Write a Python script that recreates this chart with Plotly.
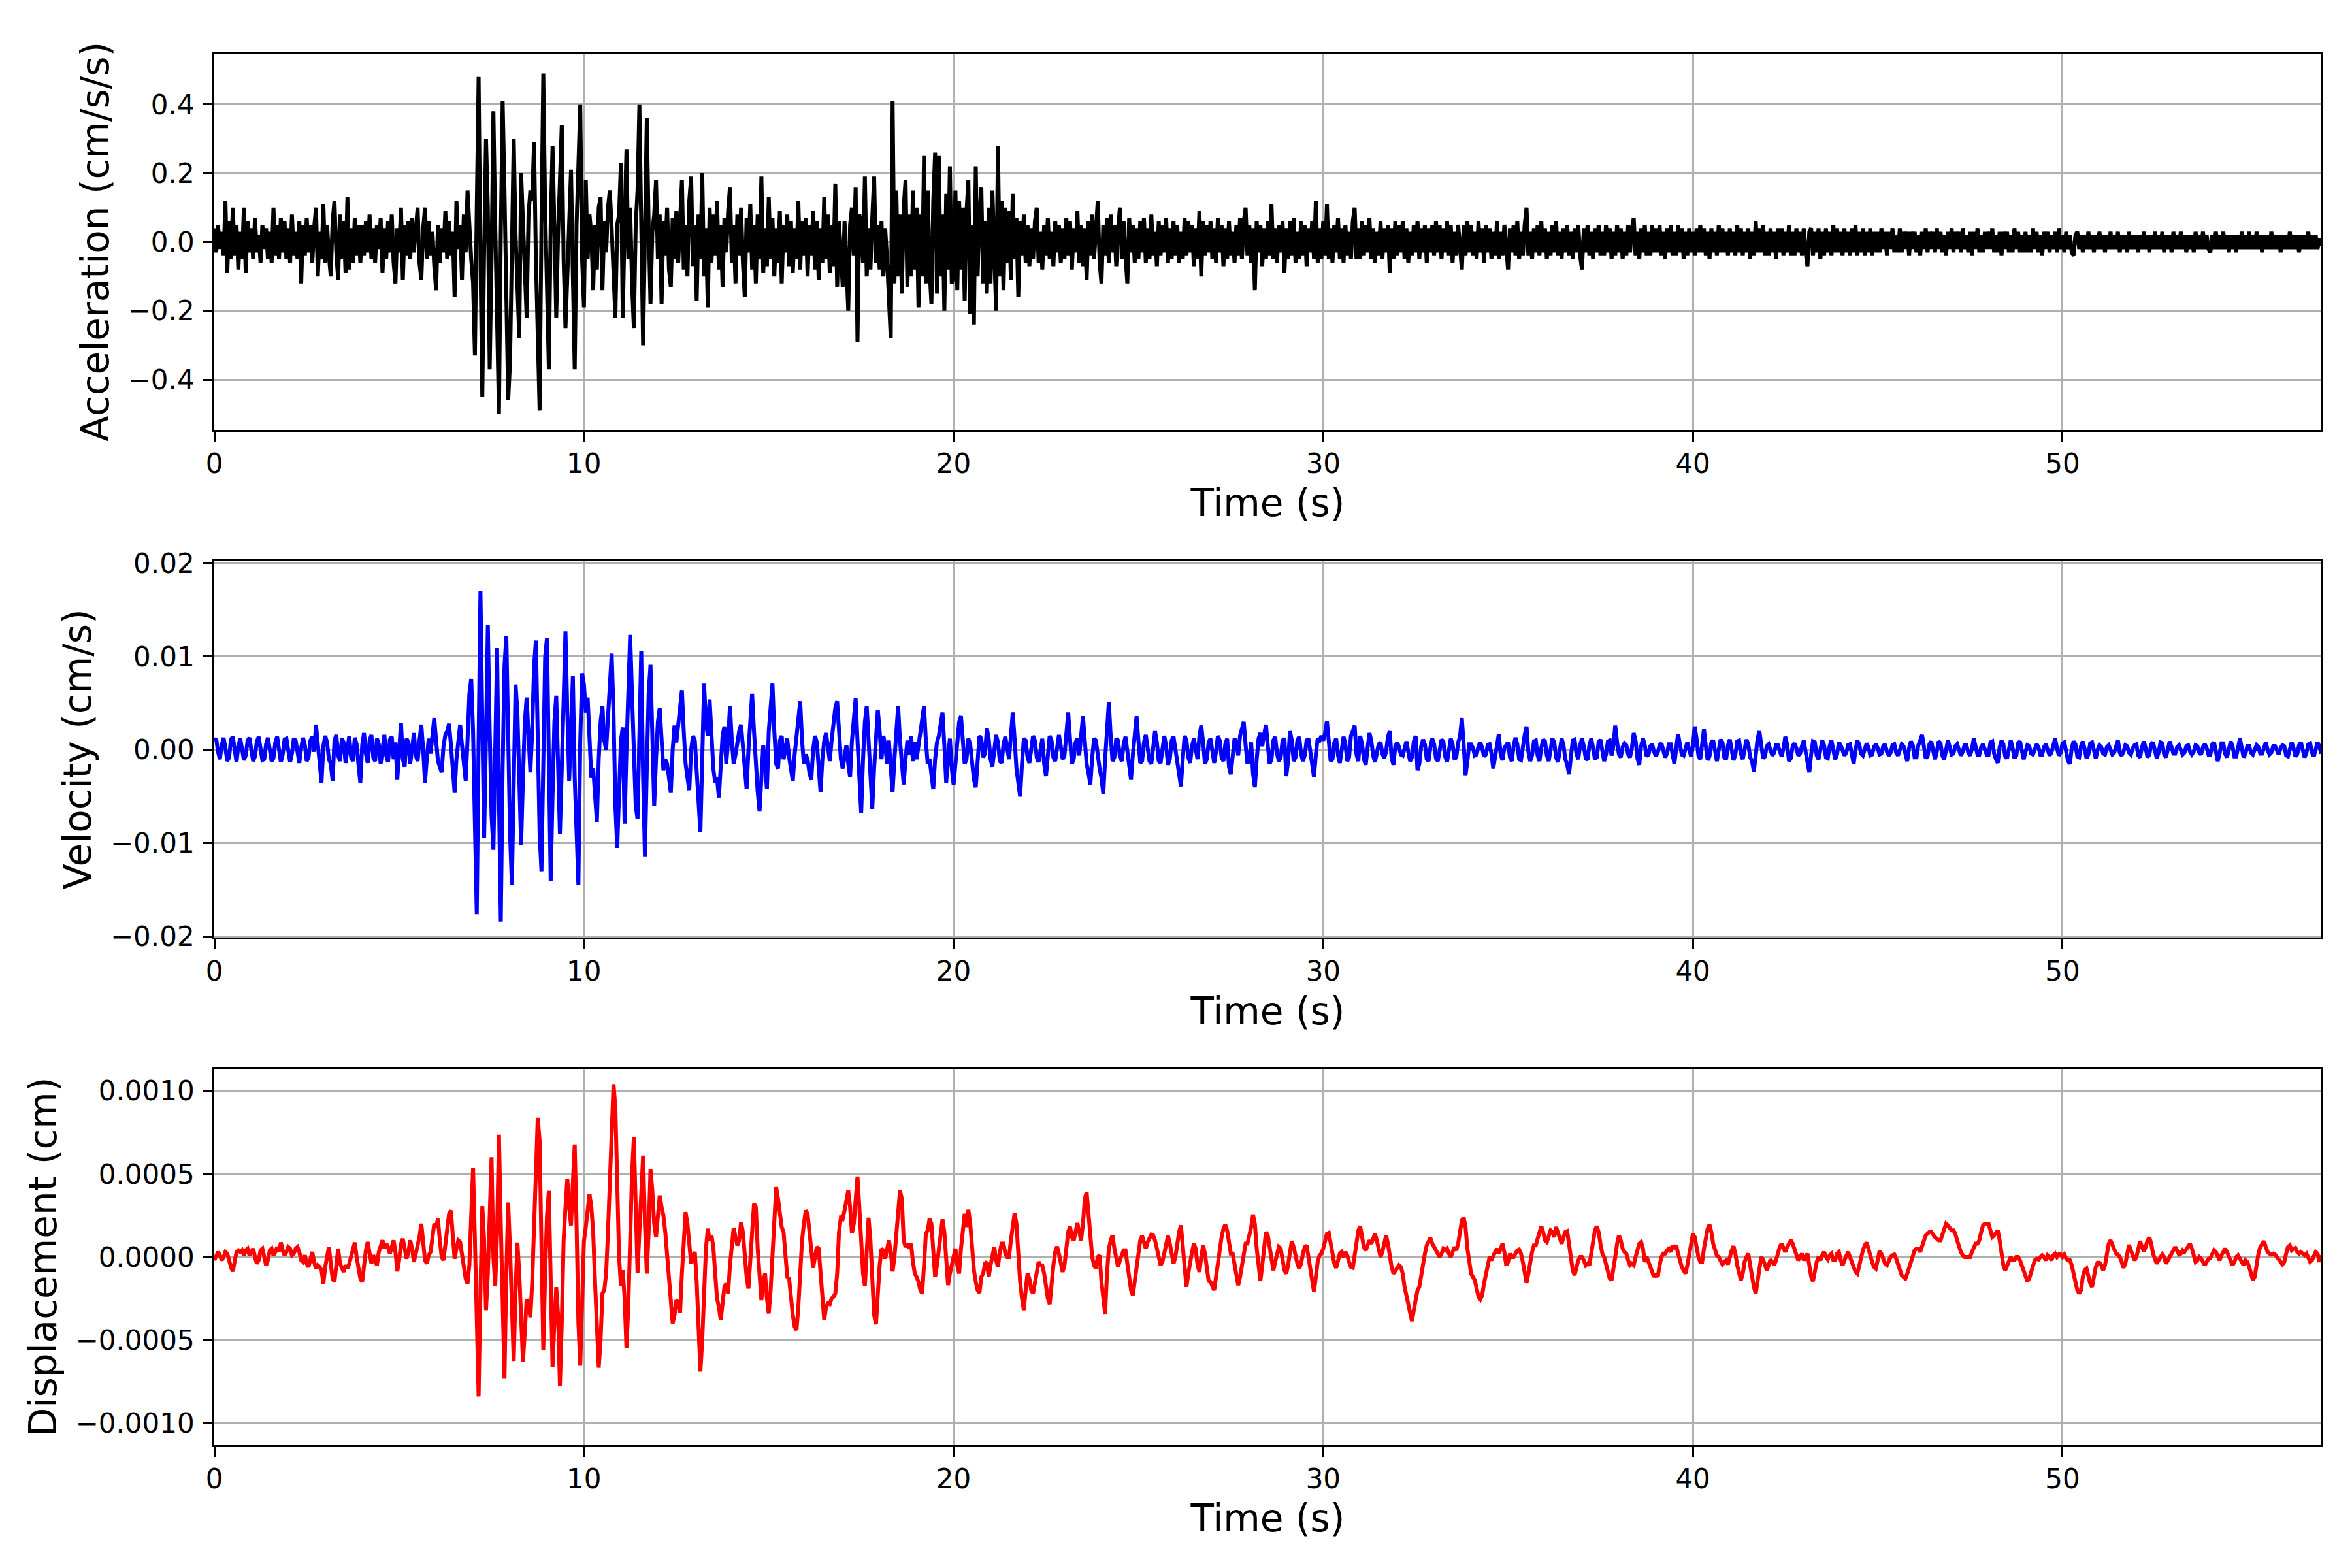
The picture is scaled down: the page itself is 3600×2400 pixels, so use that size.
"""
Acceleration / velocity / displacement time histories, three stacked panels
"""

import plotly.graph_objects as go

# sampling interval of the digitised records (s)
DT = 0.05

# acceleration (cm/s/s), one line per second
ACC = [
    .04,-.03,.05,-.02,.03,-.04,.12,-.09,.06,-.05,.10,-.04,.05,-.08,.03,-.05,.10,-.09,.06,-.03,
    .04,-.05,.07,-.03,.02,-.06,.05,-.02,.04,-.05,.03,-.06,.10,-.04,.05,-.05,.07,-.03,.06,-.05,
    .04,-.06,.08,-.04,.03,-.05,.06,-.12,.05,-.04,.07,-.03,.05,-.06,.04,.10,-.10,.03,-.05,.11,
    -.06,.05,-.04,-.10,.06,.12,-.03,-.11,.08,-.05,.06,-.09,.13,-.08,.04,-.06,.07,-.04,.05,-.06,
    .05,-.04,.06,-.03,.08,-.05,.04,-.06,.05,-.02,.07,-.09,.04,-.05,.06,-.03,.08,-.06,-.12,.04,
    -.03,.10,-.11,.05,-.04,.06,-.05,.07,-.03,.04,.10,-.06,-.11,.04,.10,-.05,.06,-.04,.03,-.07,
    -.14,.05,-.06,.04,-.03,.09,-.05,.06,-.04,.03,-.16,.12,-.02,.05,-.11,.08,-.03,.15,.04,-.05,
    -.12,-.33,.10,.48,-.05,-.45,-.02,.30,.10,-.37,-.05,.38,.05,-.20,-.50,.02,.41,.15,-.10,-.46,
    -.35,.05,.30,.02,-.12,-.28,.20,.05,-.05,-.22,.08,.15,.12,.29,-.05,-.30,-.49,.05,.49,.10,
    -.15,-.37,.05,.28,.05,-.22,.02,.15,.34,-.05,-.25,-.10,.08,.21,-.10,-.37,.05,.20,.40,-.05,
    -.19,.18,-.05,.08,.02,-.14,.05,-.08,.10,.13,-.14,.06,-.03,.10,.15,.04,-.10,-.22,.05,.08,
    .23,-.22,.05,.27,-.05,.10,-.12,-.25,.05,.15,.40,-.05,-.30,.02,.36,.05,-.18,.03,.08,.18,
    -.05,.08,-.18,.06,-.04,.10,-.08,-.13,.07,-.05,.09,-.06,.04,.18,-.08,.05,-.10,.12,.19,-.07,
    .05,-.17,.08,-.05,.20,-.10,.04,-.19,.10,-.06,.08,-.04,.12,-.08,.05,-.13,.07,-.03,.09,.16,
    -.06,.05,-.12,.08,-.04,.10,-.06,-.16,.07,-.03,.11,-.08,.05,-.12,.08,-.05,.19,-.09,.04,-.07,
    .13,-.05,.07,-.10,.04,-.06,.09,-.12,.05,-.03,.08,-.07,.06,-.09,.04,-.05,.12,-.08,.06,-.04,
    .07,-.10,.05,-.04,.09,-.08,.06,-.11,.04,-.06,.13,-.05,.08,-.09,.05,-.07,.17,-.13,.06,-.04,
    -.13,.06,-.08,-.20,.05,.10,-.04,.16,-.29,.08,.05,-.06,.19,-.10,.04,-.08,.07,.19,-.06,.05,
    -.08,.06,-.10,.04,-.05,-.19,-.28,.41,-.12,.15,-.10,.08,-.15,.10,.18,-.13,.08,-.10,.15,-.08,
    .10,-.19,.08,-.10,.25,-.12,.15,-.08,-.18,.12,.26,-.15,.25,-.10,.08,-.20,.14,-.08,.22,-.12,
    -.10,.15,-.14,.12,-.08,.10,-.17,.09,.18,-.21,.05,-.24,.22,-.10,.08,.16,-.12,.06,-.15,.10,
    -.12,.15,-.08,-.20,.28,-.10,.12,-.14,.10,-.06,.09,-.11,.14,-.05,.07,-.16,.06,-.04,.08,-.06,
    .05,-.07,.04,-.05,.06,.10,-.06,.03,-.08,.05,-.04,.07,-.05,.03,-.07,.06,-.03,.05,-.06,.04,
    -.05,.07,-.04,.06,-.08,.04,-.03,.09,-.06,.05,-.07,.04,-.11,.06,-.04,.08,-.05,.03,.12,-.06,
    -.12,.05,-.04,.07,-.06,.08,-.03,.05,-.07,.04,.10,-.05,.06,-.04,-.12,.07,-.03,.05,-.06,.04,
    -.05,.06,-.03,.07,-.06,.04,-.05,.08,-.04,.03,-.07,.06,-.04,.05,-.03,.07,-.06,.04,-.05,.06,
    -.04,.05,-.06,.03,-.05,.07,-.04,.06,-.03,.05,-.07,.04,-.05,.09,-.10,.06,-.04,.05,-.03,.06,
    -.05,.04,-.06,.07,-.03,.05,-.07,.04,-.05,.06,-.04,.03,-.06,.05,-.04,.07,-.05,.06,.10,-.04,
    .05,-.06,.04,-.14,.06,-.03,.05,-.07,.04,-.05,.06,-.04,.11,-.05,.04,-.06,.05,-.03,.06,-.09,
    .04,-.05,.06,-.04,.07,-.06,.03,-.05,.06,-.04,.05,-.07,.04,-.03,.06,-.05,.12,-.06,.04,-.05,
    .06,-.04,.11,-.05,.04,-.06,.05,-.03,.07,-.05,.04,-.06,.05,-.04,.03,-.05,.06,.10,-.05,.04,
    -.05,.06,-.04,.05,-.03,.07,-.05,.04,-.06,.03,-.04,.06,-.05,.04,-.03,.05,-.09,.04,-.05,.06,
    -.04,.05,-.03,.06,-.05,.04,-.06,.03,-.04,.05,-.03,.06,-.05,.04,-.03,.05,-.06,.04,-.03,.05,
    -.04,.06,-.03,.05,-.05,.04,-.03,.06,-.04,.05,-.06,.03,-.04,.05,-.03,-.08,.05,-.04,.06,-.03,
    .05,-.04,.03,-.05,.06,-.03,.04,-.06,.05,-.03,.04,-.05,.03,-.04,.06,-.05,.03,-.04,.05,-.03,
    -.08,.04,-.03,.05,-.04,.06,-.05,.03,-.04,.05,.10,-.04,.03,-.05,.04,-.03,.05,-.04,.06,-.03,
    .04,-.05,.03,-.04,.05,-.03,.06,-.04,.03,-.05,.04,-.03,.05,-.04,.03,-.05,.04,-.03,.05,-.04,
    -.08,.04,-.03,.05,-.04,.03,-.05,.04,-.03,.05,-.04,.03,-.04,.05,-.03,.04,-.05,.03,-.04,.05,
    -.03,.04,-.05,.03,-.04,.05,-.03,.04,.07,-.04,.03,-.05,.04,-.03,.05,-.04,.03,-.04,.05,-.03,
    .04,-.03,.05,-.04,.03,-.05,.04,-.03,.05,-.04,.03,-.04,.05,-.03,.04,-.05,.03,-.04,.04,-.03,
    .03,-.04,.04,-.03,.05,-.03,.04,-.04,.03,-.05,.04,-.03,.03,-.04,.05,-.03,.04,-.03,.03,-.04,
    .04,-.03,.03,-.04,.05,-.03,.04,-.04,.03,-.03,.04,-.05,.03,-.04,.06,-.03,.04,-.03,.05,-.04,
    .03,-.04,.04,-.03,.03,-.05,.04,-.03,.04,-.04,.03,-.03,.05,-.04,.03,-.04,.04,-.03,.03,-.04,
    .04,-.03,-.07,.03,.04,-.04,.03,-.03,.04,-.05,.03,-.04,.04,-.03,.03,-.04,.05,-.03,.04,-.03,
    .03,-.04,.04,-.03,.03,-.04,.04,-.03,.05,-.04,.03,-.03,.04,-.04,.03,-.03,.04,-.04,.03,-.03,
    .03,-.03,.04,-.02,.03,-.04,.03,-.02,.04,-.03,.02,-.03,.04,-.03,.03,-.02,.03,-.04,.03,-.02,
    .03,-.03,.02,-.04,.03,-.02,.04,-.03,.03,-.02,.03,-.03,.04,-.02,.03,-.03,.02,-.04,.03,-.02,
    .04,-.03,.03,-.02,.03,-.03,.04,-.02,.02,-.03,.03,-.04,.03,-.02,.04,-.03,.02,-.03,.03,-.02,
    .03,-.02,.04,-.03,.02,-.03,.03,-.04,.03,-.02,.03,-.03,.02,-.03,.04,-.02,.03,-.03,.02,-.03,
    .03,-.03,.02,-.03,.04,-.02,.03,-.03,.02,-.04,.03,-.02,.03,-.03,.02,-.02,.03,-.03,.04,-.02,
    .02,-.03,.03,-.02,.02,-.03,-.04,.02,.03,-.02,.02,-.03,.02,-.02,.03,-.02,.02,-.03,.02,-.02,
    .03,-.02,.02,-.03,.02,-.02,.03,-.02,.02,-.02,.03,-.03,.02,-.02,.02,-.03,.03,-.02,.02,-.02,
    .02,-.03,.02,-.02,.03,-.02,.02,-.03,.02,-.02,.03,-.02,.02,-.02,.03,-.03,.02,-.02,.02,-.03,
    .03,-.02,.02,-.02,.03,-.02,.02,-.03,.02,-.02,.02,-.03,.03,-.02,.02,-.02,.03,-.02,.02,-.02,
    -.03,.02,-.02,.03,-.02,.02,-.02,.03,-.02,.02,-.03,.02,-.02,.02,-.03,.02,-.02,.03,-.02,.02,
    -.02,.03,-.02,.02,-.02,.03,-.02,.02,-.03,.02,-.02,.02,-.02,.03,-.02,.02,-.02,.02,-.03,.02,
    -.02,.02,-.02,.03,-.02,.02,-.02,.02,-.03,.02,-.02,.02,-.02,.03,-.02,.02,-.02,.02,-.02,.01,
    -.01,
]

# velocity (cm/s), one line per second
VEL = [
    .0010,.0012,-.0002,-.0010,.0005,.0013,.0002,-.0012,-.0008,.0011,.0014,-.0003,-.0013,.0004,.0012,.0001,-.0011,-.0006,.0010,.0013,
    -.0002,-.0012,-.0007,.0009,.0014,.0002,-.0011,-.0010,.0006,.0013,.0003,-.0012,-.0009,.0008,.0014,.0000,-.0013,-.0005,.0011,.0012,
    -.0003,-.0013,-.0004,.0012,.0010,-.0006,-.0014,.0002,.0013,.0005,-.0012,-.0008,.0010,.0014,-.0002,.0027,.0008,-.0020,-.0035,.0004,
    .0015,.0008,-.0010,-.0015,-.0033,.0010,.0016,-.0006,-.0012,.0012,.0008,-.0014,.0004,.0015,-.0008,-.0012,.0013,.0006,-.0016,-.0035,
    .0005,.0018,-.0004,-.0014,.0010,.0016,-.0008,-.0012,.0012,.0006,-.0015,.0002,.0016,-.0006,-.0013,.0011,.0014,-.0010,.0008,-.0032,
    .0005,.0029,-.0010,-.0018,.0012,.0008,-.0015,.0002,.0018,-.0006,-.0012,.0010,.0027,.0000,-.0035,-.0008,.0012,-.0004,.0015,.0034,
    .0010,-.0012,-.0018,-.0024,.0004,.0016,.0020,.0028,.0006,-.0025,-.0046,-.0010,.0015,.0027,.0005,-.0020,-.0033,.0010,.0060,.0076,
    .0020,-.0080,-.0176,.0010,.0170,.0030,-.0094,.0015,.0134,.0020,-.0070,-.0107,.0010,.0109,-.0050,-.0184,-.0020,.0090,.0122,.0010,
    -.0090,-.0145,-.0020,.0070,.0040,-.0050,-.0102,-.0030,.0030,.0056,.0010,-.0024,.0020,.0090,.0117,.0010,-.0090,-.0130,-.0010,.0100,
    .0120,.0010,-.0140,-.0050,.0030,.0058,-.0020,-.0090,-.0020,.0070,.0127,.0040,-.0033,.0020,.0079,-.0030,-.0100,-.0145,.0010,.0082,
    .0070,.0040,.0056,.0010,-.0030,-.0020,-.0050,-.0077,-.0010,.0030,.0047,.0010,.0000,.0040,.0080,.0103,.0040,-.0060,-.0105,-.0030,
    .0010,.0024,-.0079,.0000,.0080,.0123,.0060,-.0020,-.0060,-.0074,.0020,.0106,-.0030,-.0114,-.0020,.0060,.0091,.0010,-.0060,-.0010,
    .0030,.0045,.0010,-.0022,-.0010,-.0015,-.0030,-.0046,.0000,.0026,.0008,.0030,.0050,.0064,.0020,-.0015,-.0030,-.0043,.0000,.0015,
    .0010,-.0020,-.0060,-.0088,-.0010,.0071,.0030,.0015,.0054,.0010,-.0020,-.0035,-.0030,-.0051,-.0010,.0015,.0025,-.0015,.0010,.0047,
    .0010,-.0015,-.0005,.0010,.0020,.0027,.0000,-.0025,-.0042,.0000,.0040,.0060,.0020,-.0020,-.0045,-.0066,-.0020,.0005,-.0015,-.0042,
    .0020,.0050,.0071,.0020,-.0015,-.0020,.0010,.0015,-.0010,.0000,.0012,-.0008,-.0020,-.0033,-.0005,.0015,.0030,.0052,.0010,-.0015,
    -.0005,-.0010,-.0025,-.0032,.0000,.0015,.0008,-.0020,-.0045,-.0010,.0010,.0018,.0005,-.0012,.0010,.0030,.0045,.0052,.0015,-.0010,
    -.0020,-.0010,.0005,-.0015,-.0029,.0010,.0035,.0055,.0010,-.0040,-.0068,-.0010,.0030,.0047,.0010,-.0030,-.0063,-.0020,.0015,.0043,
    .0020,-.0010,.0015,.0005,-.0015,.0010,-.0020,-.0045,-.0010,.0025,.0047,.0010,-.0015,-.0037,-.0010,.0010,-.0005,.0015,-.0012,.0008,
    -.0010,.0005,.0015,.0030,.0047,.0010,-.0015,-.0010,-.0025,-.0042,-.0010,.0008,.0015,.0025,.0040,.0005,-.0035,-.0010,.0012,-.0020,
    -.0037,-.0015,.0012,.0030,.0036,.0008,-.0015,-.0010,.0012,.0006,-.0018,-.0032,-.0040,-.0008,.0015,.0012,-.0008,-.0004,.0023,.0012,
    -.0010,-.0018,.0004,.0016,.0008,-.0012,-.0014,.0006,.0014,.0002,-.0010,.0015,.0040,.0012,-.0020,-.0035,-.0050,-.0015,.0012,.0010,
    -.0008,-.0014,.0002,.0015,.0010,-.0008,-.0013,.0004,.0012,-.0015,-.0028,-.0006,.0015,.0010,-.0008,-.0012,.0006,.0016,.0004,-.0010,
    -.0006,.0020,.0040,.0012,-.0015,-.0010,.0008,.0012,-.0006,.0015,.0036,.0010,-.0015,-.0025,-.0037,-.0008,.0012,.0010,-.0010,-.0020,
    -.0030,-.0047,-.0010,.0030,.0051,.0015,-.0012,-.0008,.0012,.0010,-.0008,-.0012,.0006,.0014,-.0004,-.0018,-.0032,-.0005,.0020,.0036,
    .0010,-.0014,-.0012,.0008,.0016,.0004,-.0012,-.0015,.0006,.0020,.0008,-.0012,-.0014,.0005,.0015,.0004,-.0016,-.0010,.0010,.0014,
    .0002,-.0015,-.0025,-.0039,-.0010,.0015,.0010,-.0008,-.0014,.0004,.0012,.0002,-.0010,.0015,.0026,.0008,-.0015,-.0010,.0008,.0012,
    -.0004,-.0014,-.0002,.0015,.0010,-.0008,-.0012,.0006,.0012,-.0018,-.0026,-.0008,.0012,.0008,-.0006,.0015,.0022,.0030,.0005,-.0015,
    -.0010,.0008,-.0025,-.0040,-.0010,.0012,.0018,.0004,.0016,.0027,.0005,-.0015,-.0010,.0010,.0014,-.0004,-.0012,-.0008,.0010,.0012,
    -.0028,-.0012,.0020,.0010,-.0012,-.0008,.0010,.0014,-.0004,-.0012,-.0006,.0010,.0012,-.0002,-.0015,-.0029,-.0005,.0012,.0010,.0015,
    .0010,.0018,.0031,.0008,-.0012,-.0010,.0008,.0012,-.0006,-.0014,.0004,.0014,.0006,-.0012,-.0008,.0015,.0020,.0026,-.0005,-.0012,
    .0015,.0006,-.0010,-.0016,.0002,.0018,.0010,-.0006,-.0013,-.0003,.0006,.0008,-.0004,-.0009,-.0002,.0014,.0020,-.0009,-.0016,.0004,
    .0008,.0003,-.0005,-.0006,.0004,.0009,-.0002,-.0012,-.0008,.0009,.0015,-.0022,-.0015,.0004,.0011,.0006,-.0010,-.0012,.0003,.0012,
    .0006,-.0009,-.0012,.0002,.0011,.0009,-.0007,-.0013,.0001,.0012,.0006,-.0010,-.0008,.0008,.0014,.0034,.0005,-.0027,-.0012,.0006,
    .0006,.0002,-.0006,-.0005,.0004,.0008,.0002,-.0007,-.0005,.0005,.0006,-.0004,-.0020,-.0008,.0010,.0017,-.0005,-.0011,.0002,.0006,
    .0008,-.0008,-.0012,.0004,.0013,.0006,-.0010,-.0011,.0005,.0016,.0025,-.0002,-.0012,-.0006,.0009,.0010,-.0006,-.0012,.0002,.0011,
    .0009,-.0006,-.0012,.0001,.0012,.0008,-.0008,-.0013,.0004,.0012,.0005,-.0010,-.0016,-.0026,-.0008,.0010,.0011,-.0004,-.0010,.0005,
    .0012,.0004,-.0009,-.0011,.0005,.0012,.0002,-.0010,-.0008,.0008,.0011,-.0003,-.0012,-.0005,.0009,.0010,-.0006,.0004,.0026,.0008,
    -.0005,-.0008,.0003,.0007,.0005,-.0005,-.0008,.0002,.0018,.0010,-.0009,-.0016,.0004,.0012,.0005,-.0007,-.0005,.0004,.0006,-.0002,
    -.0007,-.0003,.0005,.0007,-.0003,-.0008,-.0004,.0006,.0006,-.0004,-.0015,.0002,.0017,.0006,-.0005,-.0006,.0003,.0008,.0001,-.0007,
    .0004,.0025,.0012,-.0006,-.0010,.0008,.0022,.0004,-.0011,-.0007,.0008,.0010,-.0004,-.0012,.0000,.0011,.0008,-.0008,-.0010,.0005,
    .0011,-.0002,-.0011,-.0005,.0009,.0010,-.0004,-.0010,.0002,.0011,.0006,-.0008,-.0012,-.0023,-.0006,.0012,.0020,.0005,-.0009,-.0007,
    .0004,.0006,-.0002,-.0006,-.0003,.0005,.0005,-.0003,-.0007,.0001,.0014,.0006,-.0012,-.0009,.0004,.0007,.0002,-.0006,-.0004,.0004,
    .0010,-.0002,-.0012,-.0024,-.0005,.0009,.0008,-.0006,-.0010,.0003,.0010,.0005,-.0008,-.0009,.0004,.0010,.0001,-.0010,-.0005,.0008,
    .0005,-.0002,-.0006,-.0003,.0005,.0006,-.0003,-.0015,.0000,.0010,.0006,-.0004,-.0006,.0002,.0007,.0003,-.0006,-.0005,.0003,.0006,
    .0002,-.0005,-.0004,.0004,.0006,-.0002,-.0006,-.0003,.0005,.0006,-.0003,-.0006,.0001,.0006,.0004,-.0005,-.0012,.0002,.0009,.0005,
    -.0008,-.0008,.0005,.0010,.0016,.0004,-.0009,-.0007,.0006,.0009,-.0003,-.0010,-.0002,.0009,.0007,-.0006,-.0010,.0003,.0010,.0003,
    -.0005,-.0004,.0004,.0006,-.0002,-.0006,-.0002,.0005,.0005,-.0003,-.0006,.0001,.0012,.0005,-.0005,-.0005,.0003,.0006,.0001,-.0005,
    -.0005,.0008,.0009,-.0004,-.0010,-.0014,.0003,.0010,.0006,-.0007,-.0009,.0004,.0010,.0002,-.0009,-.0006,.0007,.0009,-.0003,-.0010,
    -.0002,.0005,.0004,-.0004,-.0005,.0002,.0006,.0003,-.0005,-.0005,.0003,.0006,-.0001,-.0006,-.0003,.0005,.0012,.0002,-.0006,-.0003,
    .0007,.0008,-.0005,-.0012,-.0015,.0002,.0009,.0006,-.0007,-.0008,.0004,.0009,.0001,-.0009,-.0005,.0007,.0008,-.0003,-.0009,.0000,
    .0005,.0003,-.0004,-.0005,.0003,.0005,.0000,-.0005,-.0003,.0004,.0010,-.0003,-.0006,-.0002,.0005,.0004,-.0003,-.0005,.0002,.0005,
    .0006,-.0006,-.0008,.0003,.0009,.0002,-.0008,-.0005,.0006,.0008,-.0002,-.0009,-.0003,.0008,.0007,-.0005,-.0008,.0003,.0009,.0003,
    -.0004,-.0004,.0003,.0005,.0001,-.0005,-.0003,.0004,.0005,-.0002,-.0005,-.0002,.0005,.0004,-.0003,-.0005,.0003,.0006,.0002,-.0005,
    -.0005,.0006,.0008,-.0002,-.0012,-.0004,.0007,.0007,-.0004,-.0008,.0001,.0009,.0004,-.0007,-.0007,.0005,.0012,.0002,-.0008,-.0004,
    .0004,.0004,-.0003,-.0005,.0001,.0005,.0003,-.0004,-.0004,.0003,.0008,.0000,-.0005,-.0003,.0004,.0004,-.0002,-.0005,.0002,.0005,
    .0004,-.0006,-.0007,.0003,.0008,.0002,-.0007,-.0005,.0005,.0008,-.0001,-.0008,-.0003,.0006,.0007,-.0003,-.0007,.0002,.0008,.0004,
    -.0004,
]

# displacement (cm), one line per second
DISP = [
    -0.2e-4,0.1e-4,0.3e-4,0.1e-4,-0.2e-4,0.0,0.3e-4,0.2e-4,-0.3e-4,-0.6e-4,-0.87e-4,-0.2e-4,0.3e-4,0.4e-4,0.3e-4,0.4e-4,0.1e-4,0.4e-4,0.5e-4,0.1e-4,
    0.3e-4,0.5e-4,0.0,-0.4e-4,-0.2e-4,0.4e-4,0.5e-4,-0.1e-4,-0.5e-4,-0.2e-4,0.4e-4,0.5e-4,0.1e-4,0.3e-4,0.6e-4,0.3e-4,0.87e-4,0.4e-4,0.1e-4,0.3e-4,
    0.6e-4,0.5e-4,0.1e-4,0.2e-4,0.5e-4,0.6e-4,0.3e-4,-0.2e-4,-0.3e-4,0.1e-4,-0.4e-4,-0.6e-4,0.0,0.3e-4,-0.3e-4,-0.7e-4,-0.5e-4,-0.6e-4,-0.8e-4,-1.6e-4,
    -0.6e-4,0.2e-4,0.6e-4,-0.4e-4,-1.3e-4,-1.5e-4,-0.3e-4,0.5e-4,-0.4e-4,-0.6e-4,-0.9e-4,-0.5e-4,-0.7e-4,-0.4e-4,0.0,0.6e-4,0.87e-4,0.0,-0.8e-4,-1.3e-4,
    -1.5e-4,-0.3e-4,0.4e-4,0.9e-4,0.2e-4,-0.4e-4,0.1e-4,-0.3e-4,-0.5e-4,0.3e-4,0.7e-4,1.0e-4,0.5e-4,0.8e-4,0.6e-4,0.2e-4,0.6e-4,1.0e-4,0.3e-4,-0.87e-4,
    -0.2e-4,0.8e-4,1.1e-4,0.4e-4,-0.1e-4,0.3e-4,1.0e-4,0.5e-4,-0.3e-4,0.2e-4,0.6e-4,1.2e-4,2.0e-4,1.0e-4,-0.2e-4,-0.4e-4,0.1e-4,0.3e-4,1.0e-4,2.0e-4,
    1.8e-4,2.3e-4,1.0e-4,0.0,-0.2e-4,0.8e-4,1.8e-4,2.6e-4,2.8e-4,1.5e-4,-0.1e-4,0.5e-4,1.0e-4,0.9e-4,0.2e-4,-0.8e-4,-1.3e-4,-1.6e-4,-0.5e-4,2.5e-4,
    5.35e-4,1.0e-4,-5.0e-4,-8.4e-4,-2.0e-4,3.06e-4,1.0e-4,-3.2e-4,-1.0e-4,3.5e-4,6.0e-4,0.0,-1.75e-4,1.5e-4,7.36e-4,2.0e-4,-4.0e-4,-7.3e-4,-1.0e-4,3.28e-4,
    0.5e-4,-4.0e-4,-6.26e-4,-2.0e-4,0.87e-4,-1.0e-4,-4.0e-4,-6.3e-4,-4.5e-4,-2.55e-4,-2.8e-4,-3.64e-4,-1.5e-4,2.0e-4,5.0e-4,8.38e-4,7.0e-4,0.0,-5.6e-4,-1.0e-4,
    2.5e-4,3.98e-4,-1.0e-4,-6.63e-4,-4.0e-4,-1.82e-4,-3.5e-4,-7.76e-4,-4.0e-4,1.0e-4,3.0e-4,4.7e-4,3.0e-4,1.9e-4,4.5e-4,6.77e-4,2.0e-4,-4.0e-4,-6.55e-4,-3.0e-4,
    0.95e-4,1.8e-4,2.8e-4,3.8e-4,3.0e-4,1.5e-4,-1.5e-4,-4.5e-4,-6.67e-4,-5.0e-4,-2.2e-4,-2.0e-4,-1.0e-4,1.5e-4,4.5e-4,7.5e-4,10.4e-4,9.0e-4,4.0e-4,0.0,
    -1.75e-4,-0.8e-4,-2.5e-4,-5.5e-4,-3.0e-4,1.5e-4,5.0e-4,7.2e-4,3.0e-4,-0.95e-4,1.5e-4,4.5e-4,6.1e-4,2.0e-4,-1.0e-4,1.5e-4,5.27e-4,4.0e-4,2.0e-4,1.2e-4,
    2.5e-4,3.7e-4,3.0e-4,2.5e-4,1.5e-4,0.0,-1.7e-4,-3.0e-4,-4.0e-4,-3.5e-4,-2.6e-4,-2.8e-4,-3.35e-4,-1.0e-4,1.5e-4,2.7e-4,2.0e-4,0.5e-4,-0.4e-4,0.0,
    0.3e-4,-1.5e-4,-4.5e-4,-6.9e-4,-5.0e-4,-2.0e-4,0.5e-4,1.7e-4,1.0e-4,1.3e-4,0.6e-4,-1.0e-4,-2.5e-4,-3.0e-4,-3.8e-4,-2.8e-4,-1.8e-4,-1.6e-4,-2.2e-4,-0.5e-4,
    1.0e-4,1.75e-4,1.2e-4,0.7e-4,1.0e-4,2.1e-4,1.5e-4,0.0,-1.2e-4,-1.9e-4,-0.5e-4,1.5e-4,3.2e-4,3.0e-4,0.5e-4,-1.5e-4,-2.6e-4,-1.5e-4,-1.0e-4,-2.5e-4,
    -3.4e-4,-2.0e-4,0.5e-4,2.5e-4,4.2e-4,3.5e-4,2.5e-4,1.8e-4,1.5e-4,0.0,-1.2e-4,-1.3e-4,-2.5e-4,-3.5e-4,-4.2e-4,-4.4e-4,-3.0e-4,-0.5e-4,1.0e-4,2.0e-4,
    2.8e-4,2.6e-4,1.5e-4,0.5e-4,-0.65e-4,0.0,0.6e-4,0.5e-4,-1.0e-4,-2.5e-4,-3.8e-4,-3.0e-4,-2.8e-4,-2.84e-4,-2.5e-4,-2.4e-4,-2.2e-4,-1.0e-4,1.5e-4,2.36e-4,
    2.3e-4,2.8e-4,3.5e-4,4.0e-4,3.0e-4,1.43e-4,2.0e-4,3.5e-4,4.84e-4,3.0e-4,0.5e-4,-1.0e-4,-1.75e-4,0.5e-4,2.36e-4,1.0e-4,-1.5e-4,-3.5e-4,-4.05e-4,-2.0e-4,
    -0.5e-4,0.5e-4,0.4e-4,-0.1e-4,0.5e-4,1.0e-4,0.3e-4,-0.87e-4,0.0,1.5e-4,2.5e-4,4.0e-4,3.5e-4,1.0e-4,0.6e-4,0.8e-4,0.5e-4,0.8e-4,-0.3e-4,-1.0e-4,
    -1.2e-4,-1.5e-4,-2.0e-4,-2.2e-4,-0.5e-4,1.4e-4,1.6e-4,2.3e-4,2.0e-4,0.3e-4,-1.2e-4,-0.5e-4,0.5e-4,1.5e-4,2.26e-4,1.5e-4,-0.5e-4,-1.7e-4,-1.0e-4,-0.5e-4,
    0.0,0.5e-4,-0.5e-4,-1.0e-4,0.5e-4,1.5e-4,2.6e-4,1.8e-4,2.84e-4,2.0e-4,0.5e-4,-0.8e-4,-1.5e-4,-2.0e-4,-2.16e-4,-1.2e-4,-1.0e-4,-0.4e-4,-0.3e-4,-1.2e-4,
    -0.5e-4,0.2e-4,0.6e-4,-0.2e-4,-0.6e-4,0.3e-4,0.8e-4,0.8e-4,0.2e-4,0.0,0.0,1.0e-4,2.0e-4,2.65e-4,2.0e-4,0.0,-1.5e-4,-2.5e-4,-3.2e-4,-2.0e-4,
    -1.0e-4,-1.3e-4,-2.0e-4,-2.2e-4,-1.5e-4,-1.0e-4,-0.3e-4,-0.5e-4,-0.5e-4,-1.0e-4,-2.0e-4,-2.5e-4,-2.84e-4,-1.5e-4,-0.5e-4,0.3e-4,0.63e-4,0.2e-4,-0.5e-4,-0.9e-4,
    -0.5e-4,0.5e-4,1.5e-4,1.82e-4,1.2e-4,1.0e-4,1.6e-4,2.04e-4,1.5e-4,1.0e-4,2.0e-4,3.5e-4,3.9e-4,2.5e-4,1.0e-4,0.0,-0.5e-4,-0.7e-4,0.0,0.1e-4,
    -1.5e-4,-2.5e-4,-3.42e-4,-1.0e-4,0.5e-4,1.0e-4,1.3e-4,0.5e-4,-0.2e-4,-0.6e-4,-0.2e-4,0.2e-4,0.4e-4,0.4e-4,-0.5e-4,-1.5e-4,-2.0e-4,-2.3e-4,-1.5e-4,-0.5e-4,
    0.5e-4,1.0e-4,1.27e-4,0.8e-4,0.5e-4,0.9e-4,1.2e-4,1.35e-4,1.3e-4,1.0e-4,0.5e-4,0.0,-0.5e-4,-0.3e-4,0.3e-4,0.9e-4,1.27e-4,0.8e-4,0.0,-0.4e-4,
    0.0,0.8e-4,1.5e-4,1.9e-4,0.5e-4,-1.0e-4,-1.8e-4,-1.0e-4,-0.2e-4,0.3e-4,0.8e-4,0.5e-4,-0.5e-4,-0.9e-4,0.0,0.7e-4,0.2e-4,-0.8e-4,-1.45e-4,-1.5e-4,
    -1.8e-4,-2.0e-4,-1.2e-4,-0.3e-4,0.5e-4,1.2e-4,1.7e-4,1.94e-4,1.6e-4,0.8e-4,0.2e-4,0.2e-4,-0.5e-4,-1.3e-4,-1.7e-4,-1.2e-4,-0.5e-4,0.2e-4,0.8e-4,0.8e-4,
    1.2e-4,1.8e-4,2.55e-4,2.0e-4,0.5e-4,-0.8e-4,-1.45e-4,-0.5e-4,0.5e-4,1.5e-4,1.3e-4,0.5e-4,-0.3e-4,-0.8e-4,-0.3e-4,0.2e-4,0.6e-4,0.5e-4,-0.3e-4,-0.8e-4,
    -1.0e-4,-0.5e-4,0.3e-4,0.95e-4,0.6e-4,0.0,-0.4e-4,-0.7e-4,-0.4e-4,0.2e-4,0.6e-4,0.7e-4,0.0,-0.8e-4,-1.5e-4,-2.1e-4,-1.2e-4,-0.3e-4,0.1e-4,0.2e-4,
    0.5e-4,1.0e-4,1.4e-4,1.45e-4,0.8e-4,0.0,-0.4e-4,-0.65e-4,-0.3e-4,0.2e-4,0.3e-4,0.0,0.3e-4,0.1e-4,-0.3e-4,-0.6e-4,-0.65e-4,0.2e-4,1.0e-4,1.6e-4,
    1.85e-4,1.2e-4,0.6e-4,0.4e-4,0.8e-4,1.0e-4,0.8e-4,1.2e-4,1.4e-4,1.0e-4,0.5e-4,0.0,0.3e-4,0.9e-4,1.3e-4,0.8e-4,0.0,-0.6e-4,-1.0e-4,-0.8e-4,
    -0.6e-4,-0.5e-4,-0.6e-4,-1.0e-4,-1.8e-4,-2.33e-4,-2.8e-4,-3.3e-4,-3.86e-4,-3.2e-4,-2.5e-4,-2.0e-4,-1.8e-4,-1.0e-4,-0.3e-4,0.2e-4,0.7e-4,1.0e-4,1.14e-4,0.8e-4,
    0.6e-4,0.3e-4,0.1e-4,0.0,0.2e-4,0.5e-4,0.4e-4,0.5e-4,0.2e-4,0.0,0.3e-4,0.6e-4,0.4e-4,0.8e-4,1.5e-4,2.2e-4,2.37e-4,1.8e-4,0.5e-4,-0.5e-4,
    -1.0e-4,-1.2e-4,-1.4e-4,-1.9e-4,-2.4e-4,-2.55e-4,-2.3e-4,-1.6e-4,-1.0e-4,-0.5e-4,0.0,-0.2e-4,0.1e-4,0.3e-4,0.5e-4,0.2e-4,0.5e-4,0.8e-4,0.3e-4,-0.5e-4,
    -0.3e-4,0.2e-4,0.0,0.0,0.2e-4,0.4e-4,0.45e-4,0.2e-4,-0.3e-4,-0.9e-4,-1.56e-4,-1.0e-4,-0.2e-4,0.3e-4,0.7e-4,0.7e-4,1.1e-4,1.5e-4,1.85e-4,1.5e-4,
    1.0e-4,0.9e-4,1.2e-4,1.6e-4,1.5e-4,1.2e-4,1.8e-4,1.4e-4,1.0e-4,0.8e-4,1.2e-4,1.5e-4,1.55e-4,0.8e-4,-0.2e-4,-0.8e-4,-1.1e-4,-0.6e-4,-0.2e-4,0.0,
    0.0,-0.2e-4,-0.5e-4,-0.4e-4,-0.5e-4,0.2e-4,1.0e-4,1.6e-4,1.85e-4,1.5e-4,0.8e-4,0.2e-4,0.0,-0.5e-4,-1.0e-4,-1.3e-4,-1.4e-4,-0.8e-4,0.0,0.8e-4,
    1.3e-4,1.0e-4,0.5e-4,0.3e-4,0.2e-4,-0.2e-4,-0.5e-4,-0.4e-4,-0.5e-4,0.0,0.5e-4,0.8e-4,0.9e-4,0.5e-4,-0.3e-4,0.0,-0.3e-4,-0.6e-4,-0.9e-4,-1.2e-4,
    -1.0e-4,-1.2e-4,-0.5e-4,0.0,0.2e-4,0.2e-4,0.4e-4,0.5e-4,0.3e-4,0.7e-4,0.5e-4,0.7e-4,0.2e-4,-0.3e-4,-0.6e-4,-0.8e-4,-1.0e-4,-0.5e-4,0.2e-4,1.0e-4,
    1.38e-4,1.2e-4,0.5e-4,0.0,-0.3e-4,-0.3e-4,0.5e-4,1.2e-4,1.7e-4,1.94e-4,1.5e-4,0.8e-4,0.3e-4,0.07e-4,0.0,-0.2e-4,-0.45e-4,-0.3e-4,-0.2e-4,-0.45e-4,
    0.0,0.4e-4,0.65e-4,0.2e-4,-0.5e-4,-1.0e-4,-1.4e-4,-1.0e-4,-0.3e-4,0.0,0.2e-4,-0.5e-4,-1.2e-4,-1.8e-4,-2.2e-4,-1.5e-4,-0.6e-4,0.0,-0.15e-4,-0.5e-4,
    -0.8e-4,-0.5e-4,-0.15e-4,-0.3e-4,-0.5e-4,-0.2e-4,0.3e-4,0.6e-4,0.8e-4,0.5e-4,0.3e-4,0.6e-4,0.8e-4,1.0e-4,0.8e-4,0.4e-4,0.0,-0.2e-4,0.0,0.2e-4,
    -0.2e-4,0.0,0.2e-4,-0.5e-4,-1.2e-4,-1.46e-4,-0.8e-4,-0.3e-4,0.0,-0.2e-4,0.1e-4,0.3e-4,0.0,-0.15e-4,0.1e-4,0.2e-4,-0.2e-4,-0.2e-4,0.2e-4,0.3e-4,
    -0.2e-4,-0.5e-4,-0.2e-4,0.1e-4,0.3e-4,0.0,-0.3e-4,-0.6e-4,-0.9e-4,-1.0e-4,-0.5e-4,0.0,0.4e-4,0.7e-4,0.87e-4,0.5e-4,0.0,-0.3e-4,-0.6e-4,-0.7e-4,
    -0.2e-4,0.35e-4,0.2e-4,-0.2e-4,-0.4e-4,-0.5e-4,-0.2e-4,0.0,0.1e-4,0.15e-4,-0.1e-4,-0.4e-4,-0.8e-4,-1.1e-4,-1.2e-4,-1.3e-4,-1.0e-4,-0.65e-4,-0.3e-4,0.2e-4,
    0.4e-4,0.5e-4,0.5e-4,0.3e-4,0.6e-4,1.0e-4,1.3e-4,1.4e-4,1.5e-4,1.5e-4,1.3e-4,1.2e-4,1.1e-4,1.0e-4,1.0e-4,1.4e-4,1.8e-4,2.0e-4,1.9e-4,1.7e-4,
    1.6e-4,1.6e-4,1.4e-4,1.0e-4,0.6e-4,0.3e-4,0.1e-4,0.0,0.0,0.0,0.0,0.3e-4,0.6e-4,0.8e-4,0.8e-4,1.0e-4,1.5e-4,1.9e-4,2.0e-4,2.0e-4,
    2.0e-4,1.6e-4,1.2e-4,1.3e-4,1.5e-4,1.6e-4,1.0e-4,0.2e-4,-0.5e-4,-0.8e-4,-0.5e-4,-0.2e-4,0.0,-0.2e-4,-0.2e-4,0.0,0.0,-0.2e-4,-0.5e-4,-0.9e-4,
    -1.2e-4,-1.46e-4,-1.3e-4,-0.9e-4,-0.4e-4,-0.2e-4,-0.1e-4,-0.15e-4,0.0,0.1e-4,0.0,-0.2e-4,0.1e-4,0.0,-0.2e-4,0.1e-4,0.2e-4,0.0,0.15e-4,0.15e-4,
    0.0,0.15e-4,-0.1e-4,-0.2e-4,-0.2e-4,-0.5e-4,-1.0e-4,-1.6e-4,-2.0e-4,-2.2e-4,-2.0e-4,-1.2e-4,-0.8e-4,-0.7e-4,-1.2e-4,-1.6e-4,-1.8e-4,-1.2e-4,-0.6e-4,-0.35e-4,
    -0.35e-4,-0.5e-4,-0.8e-4,-0.5e-4,0.2e-4,0.8e-4,1.0e-4,0.7e-4,0.5e-4,0.2e-4,0.15e-4,0.0,-0.3e-4,-0.65e-4,-0.4e-4,0.2e-4,0.73e-4,0.4e-4,0.0,-0.2e-4,
    0.0,0.5e-4,0.95e-4,0.6e-4,0.35e-4,0.6e-4,1.0e-4,1.17e-4,0.8e-4,0.2e-4,-0.2e-4,-0.4e-4,-0.2e-4,0.0,0.15e-4,0.0,-0.4e-4,-0.2e-4,0.0,0.15e-4,
    0.3e-4,0.6e-4,0.4e-4,0.15e-4,0.2e-4,0.4e-4,0.3e-4,0.5e-4,0.7e-4,0.8e-4,0.5e-4,0.0,-0.3e-4,-0.2e-4,0.0,-0.1e-4,-0.3e-4,-0.5e-4,-0.3e-4,-0.1e-4,
    -0.07e-4,0.2e-4,0.4e-4,0.3e-4,0.0,-0.2e-4,0.1e-4,0.3e-4,0.5e-4,0.3e-4,0.0,-0.3e-4,-0.5e-4,-0.3e-4,0.0,0.1e-4,-0.1e-4,-0.3e-4,-0.5e-4,-0.2e-4,
    -0.3e-4,-0.6e-4,-1.0e-4,-1.4e-4,-1.2e-4,-0.4e-4,0.2e-4,0.6e-4,0.8e-4,0.95e-4,0.6e-4,0.3e-4,0.2e-4,0.15e-4,0.2e-4,0.15e-4,0.0,-0.2e-4,-0.3e-4,-0.45e-4,
    -0.3e-4,0.2e-4,0.6e-4,0.7e-4,0.4e-4,0.5e-4,0.55e-4,0.3e-4,0.2e-4,0.3e-4,0.2e-4,0.1e-4,0.2e-4,0.0,-0.3e-4,-0.2e-4,0.1e-4,0.3e-4,0.2e-4,-0.3e-4,
    0.1e-4,
]

X_RANGE = [0, 57.0]
X_TICKS = [0, 10, 20, 30, 40, 50]

ACC_RANGE = [-0.546, 0.548]
ACC_TICKS = [-0.4, -0.2, 0.0, 0.2, 0.4]
ACC_LABELS = ["−0.4", "−0.2", "0.0", "0.2", "0.4"]

VEL_RANGE = [-0.0201, 0.0202]
VEL_TICKS = [-0.02, -0.01, 0.0, 0.01, 0.02]
VEL_LABELS = ["−0.02", "−0.01", "0.00", "0.01", "0.02"]

DISP_RANGE = [-0.001133, 0.001133]
DISP_TICKS = [-0.0010, -0.0005, 0.0, 0.0005, 0.0010]
DISP_LABELS = ["−0.0010", "−0.0005", "0.0000", "0.0005", "0.0010"]

FONT = "DejaVu Sans"

fig = go.Figure()

fig.add_trace(go.Scatter(y=ACC, x0=0, dx=DT, mode="lines",
                         line=dict(color="#000000", width=6),
                         xaxis="x", yaxis="y", showlegend=False))
fig.add_trace(go.Scatter(y=VEL, x0=0, dx=DT, mode="lines",
                         line=dict(color="#0000ff", width=6),
                         xaxis="x2", yaxis="y2", showlegend=False))
fig.add_trace(go.Scatter(y=DISP, x0=0, dx=DT, mode="lines",
                         line=dict(color="#ff0000", width=6),
                         xaxis="x3", yaxis="y3", showlegend=False))

# ── shared axis look (matplotlib-like box, outside ticks, grey grid) ─────────
axis_style = dict(
    showline=True, linecolor="#000000", linewidth=3, mirror=True,
    ticks="outside", ticklen=15, tickwidth=3, tickcolor="#000000",
    showgrid=True, gridcolor="#b0b0b0", gridwidth=3, zeroline=False,
    automargin=False,
    tickfont=dict(family=FONT, size=42, color="#000000"),
)
title_font = dict(family=FONT, size=58, color="#000000")

# panel boxes (page body adds an 8 px offset, taken out here)
X_DOMAIN = [0.0889, 0.9847]
Y_DOMAINS = [[0.7292, 0.9692], [0.4054, 0.6454], [0.0817, 0.3217]]

layout = dict(
    width=3600, height=2400,
    margin=dict(l=0, r=0, t=0, b=0, autoexpand=False),
    paper_bgcolor="#ffffff", plot_bgcolor="#ffffff",
    font=dict(family=FONT, color="#000000"),
    showlegend=False,
)

panels = [
    ("Acceleration (cm/s/s)", ACC_RANGE, ACC_TICKS, ACC_LABELS),
    ("Velocity (cm/s)", VEL_RANGE, VEL_TICKS, VEL_LABELS),
    ("Displacement (cm)", DISP_RANGE, DISP_TICKS, DISP_LABELS),
]

for i, (ylabel, yrange, yticks, ylabels) in enumerate(panels, 1):
    sfx = "" if i == 1 else str(i)
    layout["xaxis" + sfx] = dict(
        axis_style, domain=X_DOMAIN, anchor="y" + sfx, range=X_RANGE,
        tickmode="array", tickvals=X_TICKS, ticklabelstandoff=-2,
        title=dict(text="Time (s)", font=title_font, standoff=17),
    )
    layout["yaxis" + sfx] = dict(
        axis_style, domain=Y_DOMAINS[i - 1], anchor="x" + sfx, range=yrange,
        tickmode="array", tickvals=yticks, ticktext=ylabels, ticklabelstandoff=4,
        title=dict(text=ylabel, font=title_font, standoff=11),
    )

fig.update_layout(**layout)

fig.write_html("out.html")
